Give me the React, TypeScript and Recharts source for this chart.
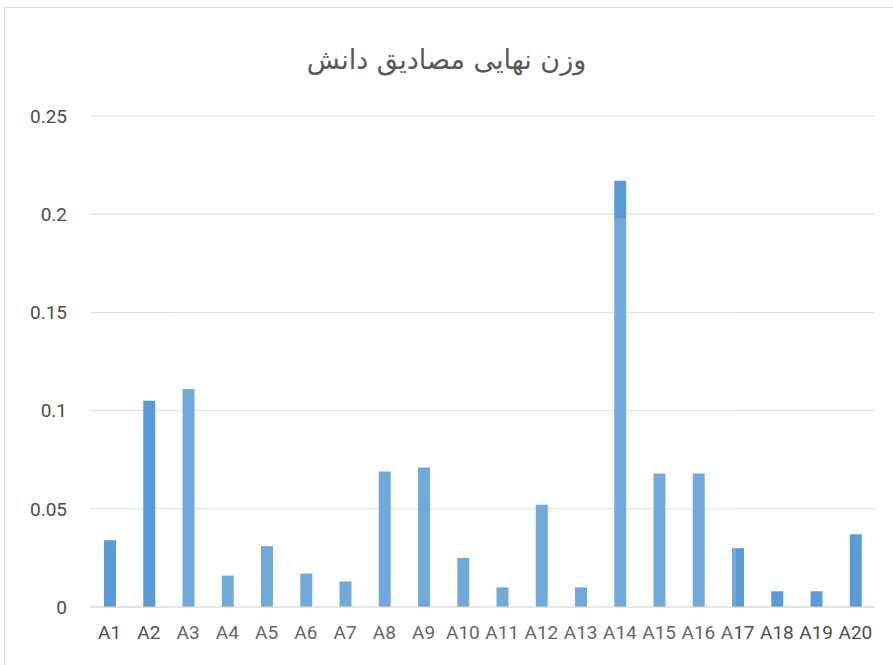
import { Bar, BarChart, CartesianGrid, XAxis, YAxis } from "recharts";

const categories = [
  "A1", "A2", "A3", "A4", "A5", "A6", "A7", "A8", "A9", "A10",
  "A11", "A12", "A13", "A14", "A15", "A16", "A17", "A18", "A19", "A20",
];
const weights = [
  0.034, 0.105, 0.111, 0.016, 0.031, 0.017, 0.013, 0.069, 0.071, 0.025,
  0.01, 0.052, 0.01, 0.217, 0.068, 0.068, 0.03, 0.008, 0.008, 0.037,
];
const yTicks = [0, 0.05, 0.1, 0.15, 0.2, 0.25];
const title = "وزن نهایی مصادیق دانش";

const data = categories.map((label, i) => ({ label, value: weights[i] }));

const font = "Roboto, 'Noto Sans', 'DejaVu Sans', sans-serif";

export default function App() {
  return (
    <div style={{ position: "absolute", left: 0, top: 0, width: 893, height: 665, background: "#fff", overflow: "hidden" }}>
      <div
        style={{
          position: "absolute",
          left: 4,
          top: 7,
          width: 900,
          height: 700,
          border: "1px solid #d9d9d9",
          boxSizing: "border-box",
        }}
      />
      <div
        dir="rtl"
        style={{
          position: "absolute",
          left: 0,
          top: 44,
          width: 893,
          textAlign: "center",
          fontFamily: "'DejaVu Sans', sans-serif",
          fontSize: 27,
          color: "#595959",
        }}
      >
        {title}
      </div>
      <BarChart
        width={893}
        height={665}
        data={data}
        margin={{ top: 116, right: 18, bottom: 0, left: 0 }}
        style={{ position: "absolute", left: 0, top: 0 }}
      >
        <CartesianGrid stroke="#d9d9d9" vertical={false} />
        <XAxis
          dataKey="label"
          axisLine={{ stroke: "#d9d9d9" }}
          tickLine={false}
          interval={0}
          height={58}
          tickMargin={13}
          tick={{ fill: "#4d4d4d", fontSize: 19, fontFamily: font }}
        />
        <YAxis
          domain={[0, 0.25]}
          ticks={yTicks}
          axisLine={false}
          tickLine={false}
          width={90}
          tickMargin={17}
          tick={{ fill: "#4d4d4d", fontSize: 19, fontFamily: font }}
        />
        <Bar dataKey="value" fill="#5b9bd5" barSize={12} isAnimationActive={false} />
      </BarChart>
      <div
        style={{
          position: "absolute",
          left: 172,
          top: 218,
          width: 564,
          height: 447,
          background: "rgba(255,255,255,0.14)",
          pointerEvents: "none",
        }}
      />
    </div>
  );
}
